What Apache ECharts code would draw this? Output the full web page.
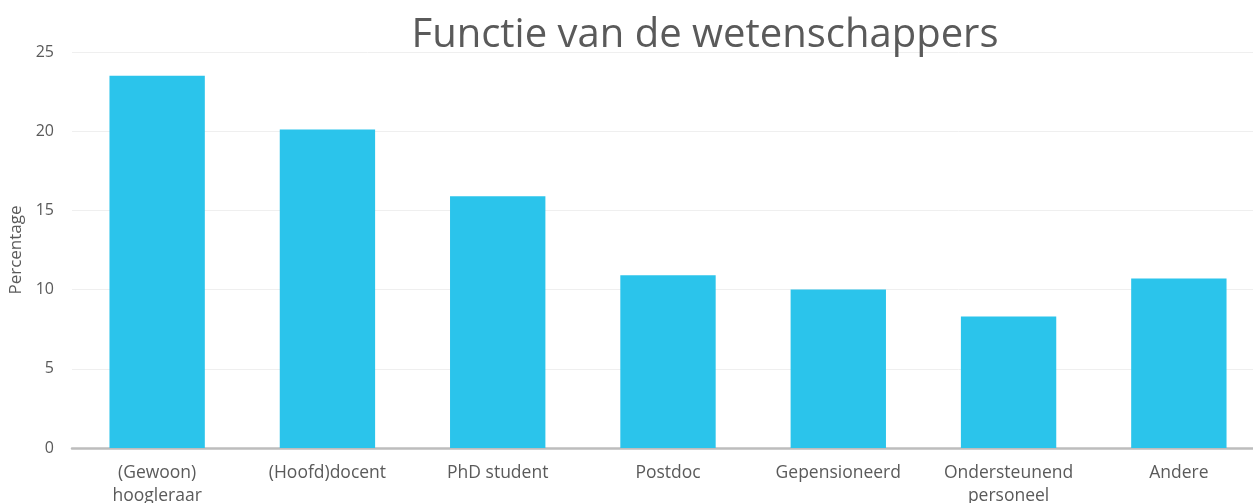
<!DOCTYPE html>
<html>
<head>
<meta charset="utf-8">
<script src="https://cdn.jsdelivr.net/npm/echarts@6/dist/echarts.min.js"></script>
<style>
  html, body { margin: 0; padding: 0; background: #fff; }
  #plot1 { width: 1253px; height: 503px; }
</style>
</head>
<body>
<div id="plot1"></div>
<script>
const categories = [
  '(Gewoon)\nhoogleraar',
  '(Hoofd)docent',
  'PhD student',
  'Postdoc',
  'Gepensioneerd',
  'Ondersteunend\npersoneel',
  'Andere'
];
const percentages = [23.5, 20.1, 15.9, 10.9, 10.0, 8.3, 10.7];
const yTicks = { min: 0, max: 25, interval: 5 };

const chartDom = document.getElementById('plot1');
const myChart = echarts.init(chartDom);
const textColor = '#5a5a5a';
const font = '"Open Sans", sans-serif';

const option = {
  animation: false,
  title: {
    text: 'Functie van de wetenschappers',
    left: 700,
    textAlign: 'center',
    top: 11,
    textStyle: { fontFamily: font, fontSize: 40, fontWeight: 'normal', color: textColor }
  },
  grid: { left: 72, top: 52, width: 1192, bottom: 55, outerBoundsMode: 'none', containLabel: false },
  xAxis: {
    type: 'category',
    data: categories,
    axisTick: { show: false },
    axisLine: { lineStyle: { color: '#bdbdbd', width: 2.5 } },
    axisLabel: {
      color: textColor,
      fontFamily: font,
      fontSize: 17.5,
      lineHeight: 23,
      margin: 14,
      interval: 0
    }
  },
  yAxis: {
    type: 'value',
    min: yTicks.min,
    max: yTicks.max,
    interval: yTicks.interval,
    name: 'Percentage',
    nameLocation: 'middle',
    nameGap: 46,
    nameTextStyle: { color: textColor, fontFamily: font, fontSize: 17 },
    axisLine: { show: false },
    axisTick: { show: false },
    axisLabel: { color: textColor, fontFamily: font, fontSize: 16, margin: 18 },
    splitLine: { lineStyle: { color: '#efefef', width: 1 } }
  },
  series: [{
    type: 'bar',
    data: percentages,
    barWidth: '56%',
    itemStyle: { color: '#2bc4eb' }
  }]
};
myChart.setOption(option);
</script>
</body>
</html>
